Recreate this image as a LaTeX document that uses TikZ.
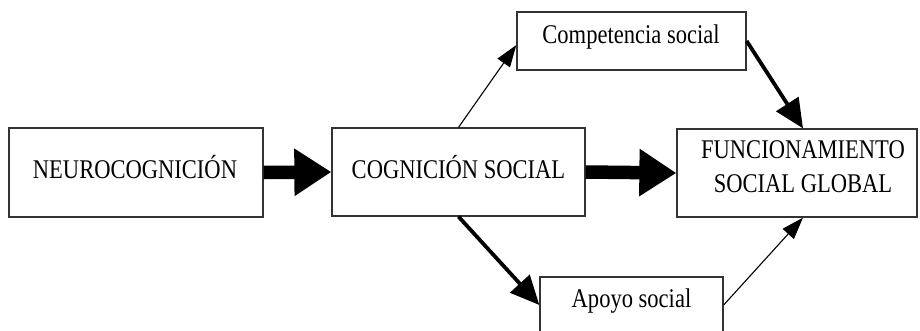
\documentclass[tikz,border=0pt]{standalone}
\usepackage{fontspec}
\setmainfont[FakeStretch=0.835]{Liberation Serif}
\usetikzlibrary{arrows.meta,calc}
\begin{document}
\begin{tikzpicture}[x=1pt,y=-1pt,
  box/.style={draw=black!80, line width=1.3pt, inner sep=0pt, fill=none},
  lbl/.style={font=\fontsize{27}{34}\selectfont, inner sep=0pt, align=center},
  bigarrow/.style={line width=13.5pt, -{Triangle[length=37pt,width=45pt]}},
  medarrow/.style={line width=3.8pt, -{Triangle[length=29pt,width=26pt]}},
  thinarrow/.style={line width=1.1pt, -{Triangle[length=22pt,width=15pt]}}]
\clip (0,0) rectangle (920,330);
\fill[white] (0,0) rectangle (920,330);
% boxes
\node[box, minimum width=254pt, minimum height=89pt] (neuro) at (136,172.5) {};
\node[box, minimum width=253pt, minimum height=88pt] (cog) at (458.5,172) {};
\node[box, minimum width=229pt, minimum height=58pt] (comp) at (631.5,41) {};
\node[box, minimum width=240pt, minimum height=88pt] (func) at (797,173) {};
\node[box, minimum width=183pt, minimum height=56pt] (apoyo) at (631.5,305) {};
% texts
\node[lbl, anchor=base] (neurot) at (135,178) {NEUROCOGNICIÓN};
\node[lbl, anchor=base] (cogt) at (458.5,178) {COGNICIÓN SOCIAL};
\node[lbl, anchor=base] (compt) at (631,43) {Competencia social};
\node[lbl, anchor=center] (funct) at (803,166.5) {FUNCIONAMIENTO\\SOCIAL GLOBAL};
\node[lbl, anchor=base] (apoyot) at (631.5,307) {Apoyo social};
% connectors
\draw[bigarrow] (neuro.east) -- (cog.west);
\draw[bigarrow] (cog.east) -- (func.west);
\draw[thinarrow] (cog.north) -- ($(comp.west)+(0,4)$);
\draw[medarrow] (comp.east) -- ($(func.north)+(6,0)$);
\draw[medarrow] (cog.south) -- (apoyo.west);
\draw[thinarrow] (apoyo.east) -- ($(func.south)+(6,0)$);
\end{tikzpicture}
\end{document}
